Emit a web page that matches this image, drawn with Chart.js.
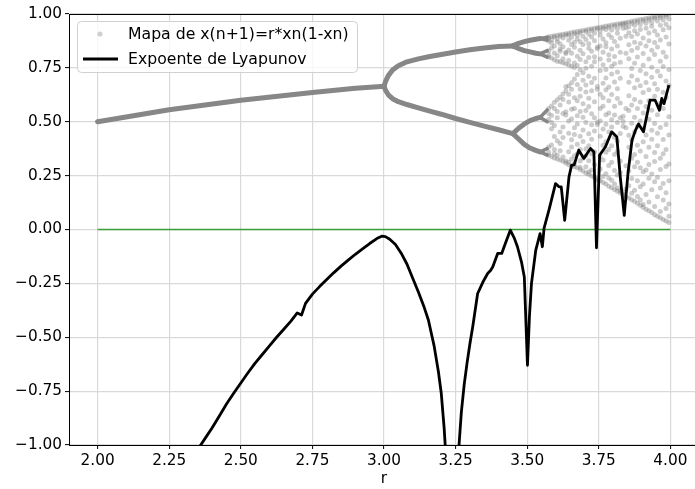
<!DOCTYPE html>
<html>
<head>
<meta charset="utf-8">
<script src="https://cdn.jsdelivr.net/npm/chart.js@4.4.1/dist/chart.umd.min.js"></script>
<style>
  html, body { margin: 0; padding: 0; background: #fff; overflow: hidden; }
  #wrap { position: absolute; left: 0; top: 0; width: 703px; height: 489px; }
</style>
</head>
<body>
<div id="wrap"><canvas id="chart" width="703" height="489"></canvas></div>
<script>
// ===== DATA =====

const xTicks = [2.00, 2.25, 2.50, 2.75, 3.00, 3.25, 3.50, 3.75, 4.00];
const yTicks = [-1.00, -0.75, -0.50, -0.25, 0.00, 0.25, 0.50, 0.75, 1.00];

// fixed point branch (period 1)
const p1R = [2.00, 2.25, 2.50, 2.75, 2.90, 2.99, 3.00];
const p1X = [0.500, 0.556, 0.600, 0.636, 0.655, 0.664, 0.665];

// period 2
const p2R  = [3.00, 3.005, 3.015, 3.03, 3.05, 3.08, 3.12, 3.16, 3.20, 3.25, 3.30, 3.35, 3.40, 3.45];
const p2Hi = [0.665, 0.686, 0.714, 0.740, 0.760, 0.778, 0.792, 0.803, 0.812, 0.824, 0.834, 0.842, 0.849, 0.852];
const p2Lo = [0.665, 0.647, 0.625, 0.607, 0.593, 0.580, 0.564, 0.549, 0.535, 0.515, 0.497, 0.480, 0.463, 0.445];

// period 4
const p4R = [3.45, 3.47, 3.49, 3.51, 3.53, 3.545];
const p4A = [0.852, 0.864, 0.872, 0.878, 0.883, 0.886];
const p4B = [0.852, 0.840, 0.830, 0.824, 0.818, 0.815];
const p4C = [0.445, 0.470, 0.490, 0.505, 0.515, 0.520];
const p4D = [0.445, 0.420, 0.395, 0.378, 0.367, 0.360];

// period 8 (short forks before chaos)
const p8R = [3.545, 3.57];
const p8X = [
  [0.886, 0.892], [0.886, 0.878], [0.815, 0.830], [0.815, 0.800],
  [0.520, 0.555], [0.520, 0.500], [0.360, 0.375], [0.360, 0.345]
];

// chaotic region, one column of iterates per r
const chaosR = [
  3.575, 3.585, 3.595, 3.605, 3.615, 3.625, 3.635, 3.645, 3.655, 3.665, 3.675,
  3.685, 3.695, 3.705, 3.715, 3.725, 3.735, 3.745, 3.755, 3.765, 3.775, 3.785,
  3.795, 3.805, 3.815, 3.825, 3.835, 3.845, 3.855, 3.865, 3.875, 3.885, 3.895,
  3.905, 3.915, 3.925, 3.935, 3.945, 3.955, 3.965, 3.975, 3.985, 3.995
];
const chaosX = [
  [0.894, 0.889, 0.874, 0.829, 0.812, 0.801, 0.561, 0.538, 0.511, 0.383, 0.358, 0.344],
  [0.896, 0.881, 0.866, 0.842, 0.796, 0.573, 0.529, 0.497, 0.468, 0.392, 0.339],
  [0.899, 0.893, 0.851, 0.819, 0.788, 0.591, 0.562, 0.483, 0.431, 0.371, 0.352, 0.332],
  [0.901, 0.884, 0.871, 0.806, 0.781, 0.602, 0.547, 0.519, 0.412, 0.344, 0.327],
  [0.904, 0.897, 0.862, 0.838, 0.827, 0.779, 0.614, 0.578, 0.452, 0.399, 0.366, 0.322],
  [0.906, 0.889, 0.848, 0.792, 0.774, 0.629, 0.603, 0.538, 0.476, 0.427, 0.336, 0.317],
  [0.908, 0.901, 0.823, 0.817, 0.769, 0.662, 0.643, 0.546, 0.531, 0.318, 0.309],
  [0.911, 0.903, 0.878, 0.833, 0.784, 0.763, 0.667, 0.628, 0.592, 0.503, 0.447, 0.361, 0.312, 0.301],
  [0.914, 0.892, 0.859, 0.818, 0.758, 0.681, 0.651, 0.558, 0.514, 0.417, 0.383, 0.327, 0.297],
  [0.916, 0.908, 0.869, 0.846, 0.773, 0.752, 0.698, 0.611, 0.562, 0.472, 0.441, 0.342, 0.306, 0.291],
  [0.919, 0.902, 0.884, 0.804, 0.761, 0.719, 0.673, 0.597, 0.528, 0.489, 0.396, 0.352, 0.286],
  [0.921, 0.913, 0.871, 0.832, 0.789, 0.741, 0.652, 0.618, 0.547, 0.433, 0.371, 0.318, 0.289, 0.279],
  [0.924, 0.897, 0.858, 0.816, 0.727, 0.692, 0.583, 0.521, 0.462, 0.408, 0.331, 0.271],
  [0.926, 0.919, 0.882, 0.779, 0.748, 0.671, 0.638, 0.552, 0.497, 0.374, 0.342, 0.291, 0.262],
  [0.929, 0.906, 0.862, 0.841, 0.798, 0.711, 0.609, 0.571, 0.444, 0.389, 0.319, 0.268, 0.256],
  [0.931, 0.924, 0.893, 0.827, 0.757, 0.682, 0.644, 0.537, 0.486, 0.419, 0.351, 0.276, 0.248],
  [0.934, 0.912, 0.876, 0.802, 0.779, 0.702, 0.593, 0.518, 0.457, 0.361, 0.302, 0.243],
  [0.936, 0.931, 0.847, 0.839, 0.663, 0.651, 0.498, 0.487, 0.236, 0.227],
  [0.939, 0.921, 0.902, 0.852, 0.791, 0.738, 0.628, 0.561, 0.503, 0.433, 0.338, 0.281, 0.227],
  [0.941, 0.934, 0.884, 0.823, 0.764, 0.679, 0.611, 0.572, 0.466, 0.391, 0.322, 0.246, 0.218],
  [0.944, 0.928, 0.867, 0.848, 0.742, 0.703, 0.649, 0.532, 0.488, 0.407, 0.358, 0.259, 0.211],
  [0.946, 0.939, 0.904, 0.811, 0.786, 0.661, 0.598, 0.541, 0.452, 0.371, 0.297, 0.239, 0.201],
  [0.949, 0.926, 0.891, 0.838, 0.757, 0.722, 0.627, 0.509, 0.476, 0.389, 0.312, 0.228, 0.194],
  [0.951, 0.943, 0.872, 0.803, 0.769, 0.684, 0.572, 0.531, 0.427, 0.348, 0.274, 0.211, 0.186],
  [0.954, 0.932, 0.911, 0.851, 0.731, 0.653, 0.608, 0.496, 0.409, 0.362, 0.253, 0.192, 0.178],
  [0.956, 0.948, 0.887, 0.822, 0.776, 0.702, 0.587, 0.518, 0.446, 0.318, 0.264, 0.181, 0.171],
  [0.958, 0.952, 0.934, 0.526, 0.501, 0.479, 0.173, 0.162, 0.157],
  [0.961, 0.955, 0.936, 0.897, 0.818, 0.561, 0.472, 0.296, 0.188, 0.151],
  [0.963, 0.941, 0.913, 0.857, 0.792, 0.683, 0.621, 0.552, 0.437, 0.382, 0.271, 0.203, 0.146],
  [0.966, 0.957, 0.896, 0.831, 0.747, 0.712, 0.578, 0.493, 0.418, 0.331, 0.237, 0.168, 0.138],
  [0.969, 0.948, 0.922, 0.869, 0.772, 0.658, 0.603, 0.521, 0.452, 0.348, 0.291, 0.182, 0.131],
  [0.971, 0.962, 0.907, 0.842, 0.801, 0.694, 0.562, 0.479, 0.391, 0.312, 0.226, 0.153, 0.122],
  [0.974, 0.951, 0.928, 0.863, 0.738, 0.667, 0.592, 0.503, 0.364, 0.287, 0.198, 0.137, 0.113],
  [0.976, 0.968, 0.889, 0.817, 0.762, 0.636, 0.541, 0.468, 0.407, 0.268, 0.211, 0.116, 0.103],
  [0.979, 0.957, 0.934, 0.851, 0.723, 0.682, 0.571, 0.438, 0.339, 0.276, 0.162, 0.094],
  [0.981, 0.972, 0.912, 0.876, 0.791, 0.648, 0.597, 0.512, 0.382, 0.302, 0.238, 0.128, 0.087],
  [0.984, 0.961, 0.943, 0.832, 0.753, 0.707, 0.553, 0.461, 0.419, 0.257, 0.184, 0.079],
  [0.986, 0.979, 0.921, 0.868, 0.812, 0.676, 0.618, 0.492, 0.357, 0.316, 0.221, 0.107, 0.069],
  [0.989, 0.967, 0.902, 0.847, 0.734, 0.651, 0.532, 0.447, 0.389, 0.243, 0.152, 0.061],
  [0.991, 0.983, 0.948, 0.879, 0.781, 0.712, 0.586, 0.473, 0.331, 0.278, 0.193, 0.084, 0.054],
  [0.994, 0.972, 0.927, 0.823, 0.756, 0.637, 0.561, 0.418, 0.352, 0.213, 0.137, 0.046],
  [0.996, 0.988, 0.953, 0.893, 0.802, 0.689, 0.612, 0.487, 0.371, 0.292, 0.171, 0.097, 0.039],
  [0.999, 0.977, 0.936, 0.861, 0.742, 0.668, 0.523, 0.439, 0.304, 0.226, 0.118, 0.062, 0.032]
];

// Lyapunov exponent
const lyapR = [
  2.34, 2.36, 2.38, 2.40, 2.425, 2.45, 2.475, 2.50, 2.525, 2.55, 2.575, 2.60,
  2.625, 2.65, 2.675, 2.697, 2.712, 2.726, 2.75, 2.775, 2.80, 2.825, 2.85, 2.875,
  2.90, 2.925, 2.95, 2.975, 2.992, 3.005, 3.02, 3.04, 3.06, 3.08, 3.10, 3.12,
  3.14, 3.155, 3.175, 3.19, 3.20, 3.21, 3.216,
  3.258, 3.262, 3.27, 3.28, 3.29, 3.30, 3.31, 3.327, 3.345, 3.362, 3.372, 3.380,
  3.397, 3.411, 3.425, 3.441, 3.455, 3.466, 3.480, 3.490, 3.501, 3.508, 3.515,
  3.530, 3.545, 3.553, 3.559, 3.576, 3.599, 3.611, 3.619, 3.631, 3.646, 3.655,
  3.664, 3.680, 3.698, 3.721, 3.733, 3.742, 3.753, 3.773, 3.795, 3.813, 3.825,
  3.839, 3.852, 3.866, 3.878, 3.889, 3.906, 3.929, 3.947, 3.962, 3.970, 3.978,
  3.987, 3.995
];
const lyapY = [
  -1.05, -1.00, -0.96, -0.92, -0.865, -0.81, -0.76, -0.712, -0.665, -0.62, -0.58, -0.54,
  -0.50, -0.463, -0.425, -0.387, -0.397, -0.343, -0.30, -0.265, -0.232, -0.20, -0.17, -0.142,
  -0.115, -0.09, -0.065, -0.042, -0.031, -0.033, -0.045, -0.07, -0.11, -0.16, -0.225, -0.29,
  -0.36, -0.42, -0.54, -0.66, -0.76, -0.92, -1.05,
  -1.06, -1.00, -0.85, -0.72, -0.62, -0.53, -0.45, -0.297, -0.245, -0.204, -0.19, -0.173,
  -0.111, -0.111, -0.06, -0.003, -0.04, -0.08, -0.15, -0.22, -0.63, -0.40, -0.25,
  -0.096, -0.019, -0.08, 0.006, 0.09, 0.213, 0.198, 0.198, 0.043, 0.244, 0.298,
  0.300, 0.368, 0.330, 0.376, 0.360, -0.085, 0.345, 0.383, 0.453, 0.430, 0.244,
  0.066, 0.260, 0.414, 0.460, 0.490, 0.453, 0.600, 0.600, 0.553, 0.608, 0.584,
  0.630, 0.670
];

// horizontal reference at zero
const zeroR = [2.0, 4.0];
const zeroY = [0, 0];

// ===== HELPERS =====

const FONT = '"DejaVu Sans", sans-serif';

function pairs(rs, xs) {
  return rs.map((r, i) => ({ x: r, y: xs[i] }));
}

function fmtTick(v) {
  const s = Math.abs(v).toFixed(2);
  return v < -1e-9 ? '\u2212' + s : s;
}

const chaosPoints = [];
chaosR.forEach((r, i) => {
  chaosX[i].forEach(x => chaosPoints.push({ x: r, y: x }));
});

function branch(data, width) {
  return {
    label: '_branch',
    data: data,
    showLine: true,
    borderColor: '#878787',
    borderWidth: width || 5,
    pointRadius: 0,
    borderCapStyle: 'round',
    borderJoinStyle: 'round',
    order: 3
  };
}

const branchSets = [
  branch(pairs(p1R, p1X)),
  branch(pairs(p2R, p2Hi)),
  branch(pairs(p2R, p2Lo)),
  branch(pairs(p4R, p4A)),
  branch(pairs(p4R, p4B)),
  branch(pairs(p4R, p4C)),
  branch(pairs(p4R, p4D))
];
p8X.forEach(xs => branchSets.push(branch(pairs(p8R, xs), 3.5)));

// legend drawn inside the plot, upper left
const legendBox = {
  id: 'legendBox',
  afterDatasetsDraw(chart) {
    const ctx = chart.ctx;
    const ca = chart.chartArea;
    ctx.save();

    // top spine
    ctx.strokeStyle = '#000';
    ctx.lineWidth = 1;
    ctx.beginPath();
    ctx.moveTo(ca.left, ca.top + 0.5);
    ctx.lineTo(ca.right, ca.top + 0.5);
    ctx.stroke();

    const x0 = 77.5, y0 = 21.5, w = 280, h = 51, rad = 4;
    ctx.beginPath();
    ctx.moveTo(x0 + rad, y0);
    ctx.arcTo(x0 + w, y0, x0 + w, y0 + h, rad);
    ctx.arcTo(x0 + w, y0 + h, x0, y0 + h, rad);
    ctx.arcTo(x0, y0 + h, x0, y0, rad);
    ctx.arcTo(x0, y0, x0 + w, y0, rad);
    ctx.closePath();
    ctx.fillStyle = 'rgba(255,255,255,0.8)';
    ctx.fill();
    ctx.strokeStyle = '#d0d0d0';
    ctx.stroke();

    const ds = chart.data.datasets;
    const mapSet = ds.find(d => d.id === 'map');
    const lyapSet = ds.find(d => d.id === 'lyap');

    ctx.fillStyle = 'rgba(150,150,150,0.45)';
    ctx.beginPath();
    ctx.arc(100, 34, 2.6, 0, Math.PI * 2);
    ctx.fill();

    ctx.strokeStyle = '#000';
    ctx.lineWidth = 2.8;
    ctx.beginPath();
    ctx.moveTo(83, 59);
    ctx.lineTo(118, 59);
    ctx.stroke();

    ctx.fillStyle = '#000';
    ctx.font = '15.7px ' + FONT;
    ctx.textBaseline = 'middle';
    ctx.textAlign = 'left';
    ctx.fillText(mapSet.label, 128, 34.5);
    ctx.fillText(lyapSet.label, 128, 59.5);
    ctx.restore();
  }
};

// ===== CHART =====

const ctx = document.getElementById('chart').getContext('2d');

const chart = new Chart(ctx, {
  type: 'scatter',
  data: {
    datasets: [
      {
        id: 'lyap',
        label: 'Expoente de Lyapunov',
        data: pairs(lyapR, lyapY),
        showLine: true,
        borderColor: '#000',
        borderWidth: 2.8,
        pointRadius: 0,
        borderJoinStyle: 'round',
        order: 0
      },
      {
        id: 'zero',
        label: '_zero',
        data: pairs(zeroR, zeroY),
        showLine: true,
        borderColor: '#3a9e3a',
        borderWidth: 1.7,
        pointRadius: 0,
        order: 1
      },
      {
        id: 'map',
        label: 'Mapa de x(n+1)=r*xn(1-xn)',
        data: chaosPoints,
        pointRadius: 2.5,
        pointBorderWidth: 0,
        backgroundColor: 'rgba(128,128,128,0.4)',
        order: 2
      },
      ...branchSets
    ]
  },
  options: {
    responsive: false,
    animation: false,
    devicePixelRatio: 1,
    layout: { padding: { left: 0, top: 14, right: 0, bottom: 0 } },
    plugins: {
      legend: { display: false },
      tooltip: { enabled: false }
    },
    scales: {
      x: {
        type: 'linear',
        min: 1.9,
        max: 4.1,
        afterBuildTicks: s => { s.ticks = xTicks.map(v => ({ value: v })); },
        afterFit: s => { s.height = 44; },
        ticks: {
          callback: v => fmtTick(v),
          color: '#000',
          padding: 3,
          maxRotation: 0,
          font: { family: FONT, size: 15.3 }
        },
        grid: { color: '#d9d9d9', lineWidth: 1.2, tickColor: '#000', tickLength: 4, tickWidth: 1 },
        border: { display: true, color: '#000', width: 1 },
        title: {
          display: true,
          text: 'r',
          color: '#000',
          font: { family: FONT, size: 15.3 },
          padding: { top: 0, bottom: 1 }
        }
      },
      y: {
        type: 'linear',
        min: -1,
        max: 1,
        afterBuildTicks: s => { s.ticks = yTicks.map(v => ({ value: v })); },
        afterFit: s => { s.width = 69; },
        ticks: {
          callback: v => fmtTick(v),
          color: '#000',
          padding: 3,
          font: { family: FONT, size: 15.3 }
        },
        grid: { color: '#d9d9d9', lineWidth: 1.2, tickColor: '#000', tickLength: 4, tickWidth: 1 },
        border: { display: true, color: '#000', width: 1 }
      }
    }
  },
  plugins: [legendBox]
});
</script>
</body>
</html>
